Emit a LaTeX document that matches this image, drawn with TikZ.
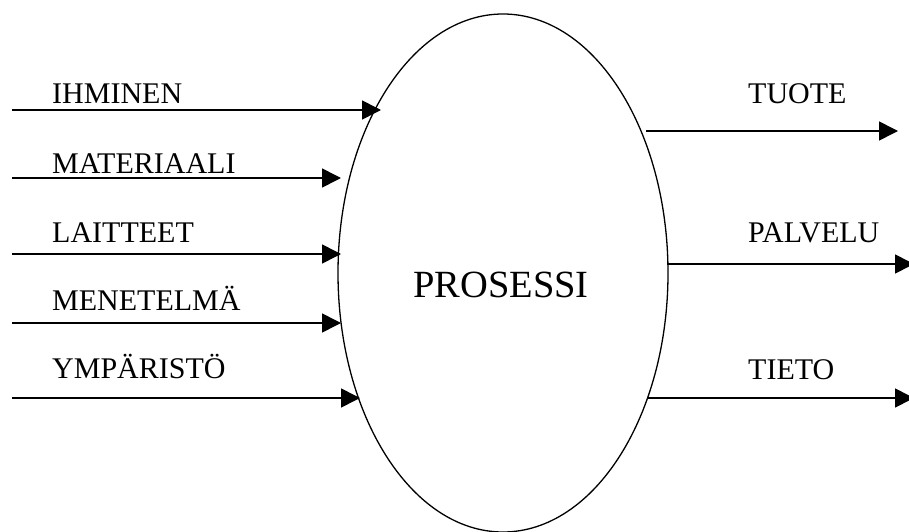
\documentclass[tikz,border=0pt]{standalone}
\usepackage{fontspec}
\setmainfont{Liberation Serif}
\usetikzlibrary{arrows.meta,shapes.geometric}
\begin{document}
\begin{tikzpicture}[x=1pt,y=-1pt,
  lbl/.style={anchor=base west,inner sep=0pt,font=\fontsize{30}{30}\selectfont},
  flow/.style={line width=1.6pt,-{Triangle[length=19pt,width=19pt]}}]
\useasboundingbox (0,0) rectangle (909,532);
\node[ellipse,draw,line width=1.3pt,minimum width=330pt,minimum height=518pt,inner sep=0pt] (proc) at (503,273) {};
\node[inner sep=0pt,font=\fontsize{38.5}{38.5}\selectfont,anchor=base] (ptxt) at (501,297) {PROSESSI};
% inputs
\coordinate (s1) at (12,110); \coordinate (e1) at (381,110);
\coordinate (s2) at (12,178); \coordinate (e2) at (341,178);
\coordinate (s3) at (12,254); \coordinate (e3) at (341,254);
\coordinate (s4) at (12,323); \coordinate (e4) at (341,323);
\coordinate (s5) at (12,398); \coordinate (e5) at (360,398);
\draw[flow] (s1) -- (e1);
\draw[flow] (s2) -- (e2);
\draw[flow] (s3) -- (e3);
\draw[flow] (s4) -- (e4);
\draw[flow] (s5) -- (e5);
\node[lbl] (l1) at (52,103) {IHMINEN};
\node[lbl] (l2) at (52,173) {MATERIAALI};
\node[lbl] (l3) at (52,242) {LAITTEET};
\node[lbl] (l4) at (52,310) {MENETELMÄ};
\node[lbl] (l5) at (52,378) {YMPÄRISTÖ};
% outputs
\coordinate (o1s) at (646,131); \coordinate (o1e) at (898,131);
\coordinate (o2s) at (667,264); \coordinate (o2e) at (914,264);
\coordinate (o3s) at (648,398); \coordinate (o3e) at (914,398);
\draw[flow] (o1s) -- (o1e);
\draw[flow] (o2s) -- (o2e);
\draw[flow] (o3s) -- (o3e);
\node[lbl] (r1) at (748,103) {TUOTE};
\node[lbl] (r2) at (748,242) {PALVELU};
\node[lbl] (r3) at (748,379) {TIETO};
\end{tikzpicture}
\end{document}
